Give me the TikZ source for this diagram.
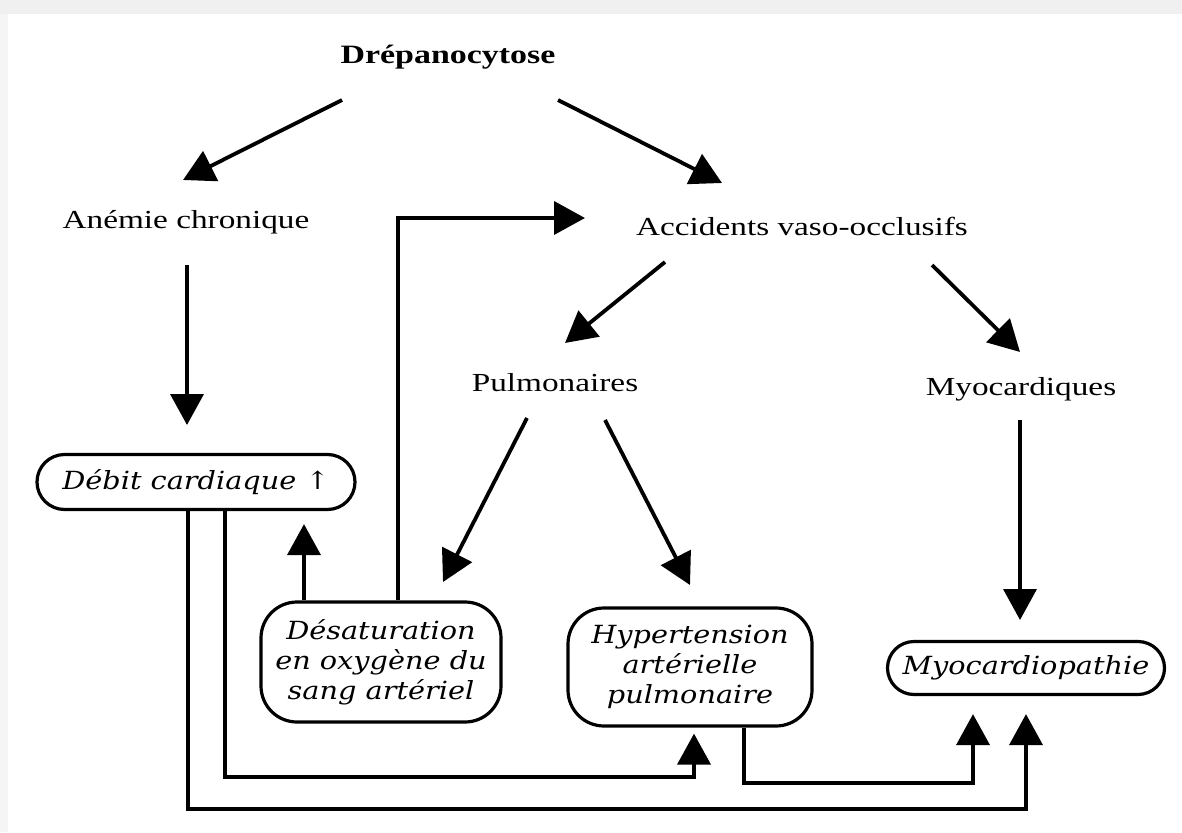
\documentclass[tikz,border=0pt]{standalone}
\usepackage{fontspec}
\setmainfont{Liberation Serif}[FakeStretch=1.28]
\newfontfamily\boxfont{DejaVu Serif}[FakeStretch=1.15]
\usetikzlibrary{arrows.meta,calc,shapes.misc}
\begin{document}
\begin{tikzpicture}[x=1pt,y=-1pt,
  lbl/.style={font=\fontsize{26}{30}\selectfont, inner sep=0pt},
  ttl/.style={font=\bfseries\fontsize{26.5}{30}\selectfont, inner sep=0pt},
  pill/.style={draw, line width=3.2pt, rounded rectangle, inner sep=0pt,
    font=\boxfont\itshape\fontsize{25}{30}\selectfont, minimum height=55pt},
  rbox/.style={draw, line width=3.2pt, rounded corners=36pt, inner sep=0pt, align=center,
    font=\boxfont\itshape\fontsize{25}{30}\selectfont},
  arr/.style={line width=3.8pt, -{Triangle[length=31pt,width=33pt]}},
  ln/.style={line width=3.8pt}]
\useasboundingbox (0,0) rectangle (1182,832);
\fill[white] (0,0) rectangle (1182,832);
\fill[black!6] (0,0) rectangle (1182,14);
\fill[black!4] (0,14) rectangle (8,832);

\node[ttl] (dre) at (448,57) {Drépanocytose};
\node[lbl] (ane) at (186,222) {Anémie chronique};
\node[lbl] (acc) at (802,226) {Accidents vaso-occlusifs};
\node[lbl] (pul) at (555,383) {Pulmonaires};
\node[lbl] (myo) at (1021,389) {Myocardiques};

\node[pill, minimum width=318pt] (deb) at (196,482) {Débit cardiaque ↑};
\node[rbox, minimum width=240pt, minimum height=120pt] (des) at (381,662)
  {Désaturation\\en oxygène du\\sang artériel};
\node[rbox, minimum width=244pt, minimum height=118pt] (hyp) at (690,667)
  {Hypertension\\artérielle\\pulmonaire};
\node[pill, minimum width=277pt, minimum height=53pt] (myp) at (1026,668) {Myocardiopathie};

% top level
\draw[arr] ($(dre.center)+(-106,43)$) -- ($(ane.center)+(-3,-42)$);
\draw[arr] ($(dre.center)+(110,43)$) -- ($(acc.center)+(-80,-43)$);
\draw[arr] ($(ane.center)+(1,43)$) -- ($(deb.center)+(-9,-57)$);
% accidents
\draw[arr] ($(acc.center)+(-137,36)$) -- ($(pul.center)+(10,-40)$);
\draw[arr] ($(acc.center)+(130,39)$) -- ($(myo.center)+(-1,-37)$);
% pulmonaires
\draw[arr] ($(pul.center)+(-28,35)$) -- ($(des.center)+(62,-80)$);
\draw[arr] ($(pul.center)+(50,37)$) -- ($(hyp.center)+(0,-82)$);
% myocardiques
\draw[arr] ($(myo.center)+(-1,31)$) -- ($(myp.center)+(-6,-48)$);
% desaturation -> debit
\draw[arr, shorten >=13pt] ([xshift=-77pt]des.north) -- ([xshift=108pt]deb.south |- deb.south);
% desaturation -> accidents
\draw[arr] ([xshift=17pt]des.north) |- ($(acc.center)+(-217,-8)$);
% debit -> myocardiopathie (outer)
\draw[arr, shorten >=18pt] ([xshift=-8pt]deb.south) -- ++(0,298) -| (myp.south);
% debit -> hypertension (inner)
\draw[arr, shorten >=6pt] ([xshift=29pt]deb.south) -- ++(0,266) -| ([xshift=4pt]hyp.south);
% hypertension -> myocardiopathie
\draw[arr, shorten >=18pt] ([xshift=54pt]hyp.south) -- ++(0,55) -| ([xshift=-53pt]myp.south);
\end{tikzpicture}
\end{document}
